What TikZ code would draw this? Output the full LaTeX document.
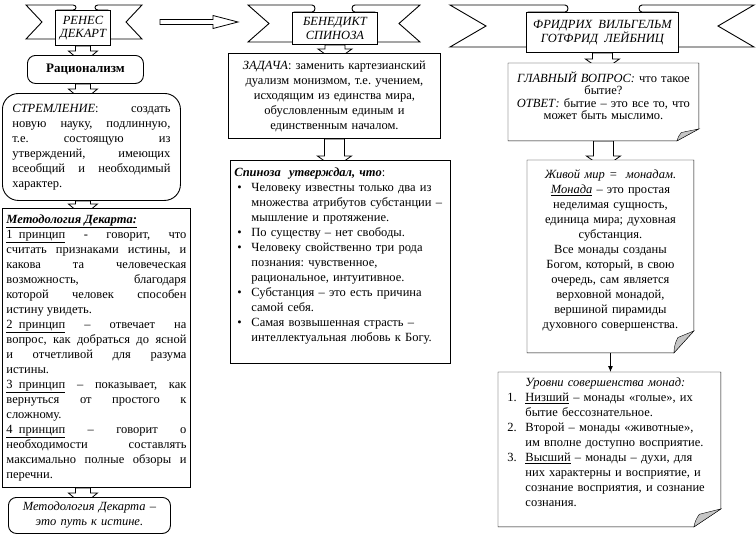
\documentclass[tikz,border=0pt]{standalone}
\usepackage{fontspec}
\setmainfont{Liberation Serif}
\usetikzlibrary{arrows.meta,calc,backgrounds}

\newcommand{\bitem}{\par\noindent\hangindent=17pt\hangafter=1\hbox to 17pt{\hspace{3pt}\textbullet\hfil}}
\newcommand{\nitem}[1]{\par\noindent\hangindent=23pt\hangafter=1\hbox to 23pt{\hspace{5pt}#1\hfil}}
\newcommand{\blockdown}[3]{%
  \path (#1) coordinate (ba);
  \path (#2) coordinate (bb);
  \path (ba |- bb) coordinate (bt);
  \draw[blockarrow] ($(ba)+(-#3,0)$) -- ($(bt)+(-#3,-4)$) -- ($(bt)+(-#3-7,-4)$)
    -- ($(bt)+(0,8)$) -- ($(bt)+(#3+7,-4)$) -- ($(bt)+(#3,-4)$) -- ($(ba)+(#3,0)$) -- cycle;}

\begin{document}
\frenchspacing
\begin{tikzpicture}[x=1pt,y=-1pt,line width=0.9pt,
  txt/.style={font=\fontsize{12.5}{15}\selectfont,inner ysep=2pt},
  sqbox/.style={txt,draw,fill=white,anchor=north west},
  rbox/.style={sqbox,rounded corners=8pt},
  foldbox/.style={txt,anchor=north west},
  panel/.style={draw,fill=white,anchor=north west,inner sep=1pt,align=center,
    font=\fontsize{12.5}{13.5}\selectfont\itshape},
  wing/.style={draw,fill=white},
  blockarrow/.style={draw,fill=white,line width=0.8pt}]

  \useasboundingbox (0,0) rectangle (756,542);

  % ribbons
  \foreach \xa/\xb/\xc/\xd/\xe/\xf/\ya/\yb/\dd in
      {26/73/55/110/98/142/10/39/16, 248/312/292/377/355/420/12/42/21,
       450/565/526/678/642/754/12/47/36}{
    \draw[wing] (\xa,5) -- (\xb,5) .. controls (\xb+4,5) and (\xb+4,\ya) .. (\xb,\ya)
      -- (\xc+2,\ya) -- (\xc+2,\yb) -- (\xa,\yb) -- (\xa+\dd,{(5+\yb)/2}) -- cycle;
    \draw[wing] (\xf,5) -- (\xe,5) .. controls (\xe-4,5) and (\xe-4,\ya) .. (\xe,\ya)
      -- (\xd-2,\ya) -- (\xd-2,\yb) -- (\xf,\yb) -- (\xf-\dd,{(5+\yb)/2}) -- cycle;
  }
  \node[panel,minimum width=55,minimum height=35] (dekart) at (55,10) {РЕНЕС\\ДЕКАРТ};
  \node[panel,minimum width=85,minimum height=32] (spinoza) at (292,12) {БЕНЕДИКТ\\СПИНОЗА};
  \node[panel,minimum width=152,minimum height=40] (leibniz) at (526,12)
    {ФРИДРИХ\ \ ВИЛЬГЕЛЬМ\\ГОТФРИД\ \ ЛЕЙБНИЦ};
  \coordinate (dekart-r) at (142,22);
  \coordinate (spinoza-l) at (248,22);
  \draw[blockarrow] ($(dekart-r)+(18,-2.5)$) -- ($(spinoza-l)+(-35,-2.5)$) -- ($(spinoza-l)+(-35,-6.5)$)
    -- ($(spinoza-l)+(-10,0)$) -- ($(spinoza-l)+(-35,6.5)$) -- ($(spinoza-l)+(-35,2.5)$)
    -- ($(dekart-r)+(18,2.5)$) -- cycle;

  % Descartes
  \node[rbox,minimum width=116,minimum height=28,font=\fontsize{13}{15}\selectfont\bfseries]
    (ratsio) at (27,55) {Рационализм};
  \node[rbox,rounded corners=16pt,text width=158,inner xsep=10,minimum height=107,align=justify]
    (stremlenie) at (2,93) {\textit{СТРЕМЛЕНИЕ}: создать\linebreak
    новую науку, подлинную,\linebreak
    т.е. состоящую из\linebreak
    утверждений, имеющих\linebreak
    всеобщий и необходимый\linebreak
    характер.};
  \node[sqbox,text width=180,inner xsep=4,minimum height=279,align=justify] (metod) at (2,208)
    {\textbf{\textit{\underline{Методология Декарта:}}}\\
    \underline{1\ \ принцип} - говорит, что\linebreak
    считать признаками истины, и\linebreak
    какова та человеческая\linebreak
    возможность, благодаря\linebreak
    которой человек способен\linebreak
    истину увидеть.\\
    \underline{2\ \ принцип} – отвечает на\linebreak
    вопрос, как добраться до ясной\linebreak
    и отчетливой для разума\linebreak
    истины.\\
    \underline{3\ \ принцип} – показывает, как\linebreak
    вернуться от простого к\linebreak
    сложному.\\
    \underline{4\ \ принцип} – говорит о\linebreak
    необходимости составлять\linebreak
    максимально полные обзоры и\linebreak
    перечни.};
  \node[rbox,text width=154,inner xsep=4,minimum height=36,align=center,
    font=\fontsize{12.5}{15}\selectfont\itshape] (itog) at (8,497)
    {Методология Декарта –\\это путь к истине.};

  % Spinoza
  \node[sqbox,text width=204,inner xsep=4,minimum height=85,align=center] (zadacha) at (228,53)
    {\textit{ЗАДАЧА}: заменить картезианский\\
    дуализм монизмом, т.е. учением,\\
    исходящим из единства мира,\\
    обусловленным единым и\\
    единственным началом.};
  \node[sqbox,text width=212,inner xsep=4,minimum height=203,align=left] (spin) at (230,160)
    {\textbf{\textit{Спиноза\ \ утверждал, что}}:
    \bitem Человеку известны только два из\newline множества атрибутов субстанции –\newline мышление и протяжение.
    \bitem По существу – нет свободы.
    \bitem Человеку свойственно три рода\newline познания: чувственное,\newline рациональное, интуитивное.
    \bitem Субстанция – это есть причина\newline самой себя.
    \bitem Самая возвышенная страсть –\newline интеллектуальная любовь к Богу.\par\mbox{}};

  % Leibniz
  \node[foldbox,text width=182,inner xsep=4,minimum height=77,align=center,
    font=\fontsize{12.5}{12.5}\selectfont] (vopros) at (508,63)
    {\textit{ГЛАВНЫЙ ВОПРОС:} что такое\\
    бытие?\\
    \textit{ОТВЕТ:} бытие – это все то, что\\
    может быть мыслимо.\\\mbox{}};
  \node[foldbox,text width=160,inner xsep=3,minimum height=192,align=center] (zhivoy) at (527,160)
    {\textit{Живой мир =\ \ монадам.}\\
    \textit{\underline{Монада}} – это простая\\
    неделимая сущность,\\
    единица мира; духовная\\
    субстанция.\\
    Все монады созданы\\
    Богом, который, в свою\\
    очередь, сам является\\
    верховной монадой,\\
    вершиной пирамиды\\
    духовного совершенства.\\\mbox{}};
  \node[foldbox,text width=214,inner xsep=4,minimum height=154,align=left] (urovni) at (498,372)
    {\hspace*{23pt}\textit{Уровни совершенства монад:}
    \nitem{1.}\underline{Низший} – монады «голые», их\newline бытие бессознательное.
    \nitem{2.}Второй – монады «животные»,\newline им вполне доступно восприятие.
    \nitem{3.}\underline{Высший} – монады – духи, для\newline них характерны и восприятие, и\newline сознание восприятия, и сознание\newline сознания.\par\mbox{}};
  \draw[-{Latex[length=6pt,width=5pt]},line width=0.8pt] (zhivoy.south) -- (zhivoy.south |- urovni.north);

  \begin{scope}[on background layer]
    \blockdown{dekart.south}{ratsio.north}{7.5}
    \blockdown{dekart |- ratsio.south}{stremlenie.north}{7.5}
    \blockdown{dekart |- stremlenie.south}{metod.north}{7.5}
    \blockdown{dekart |- metod.south}{itog.north}{7.5}
    \blockdown{spinoza.south}{zadacha.north}{10}
    \blockdown{zadacha.south}{spin.north}{10}
    \blockdown{leibniz.south}{vopros.north}{10}
    \blockdown{vopros.south}{zhivoy.north}{10}
    \foreach \n/\fw/\fh in {vopros/22/12,zhivoy/20/22,urovni/27/18}{
      \draw[fill=white] (\n.north west) -- (\n.north east) -- ($(\n.south east)+(0,-\fh)$)
        -- ($(\n.south east)+(-\fw,0)$) -- (\n.south west) -- cycle;
      \draw[fill=gray!45] ($(\n.south east)+(-\fw,0)$) to[bend left=12] ($(\n.south east)+(-0.8*\fw,-0.7*\fh)$)
        -- ($(\n.south east)+(0,-\fh)$) -- cycle;
    }
  \end{scope}
\end{tikzpicture}
\end{document}
